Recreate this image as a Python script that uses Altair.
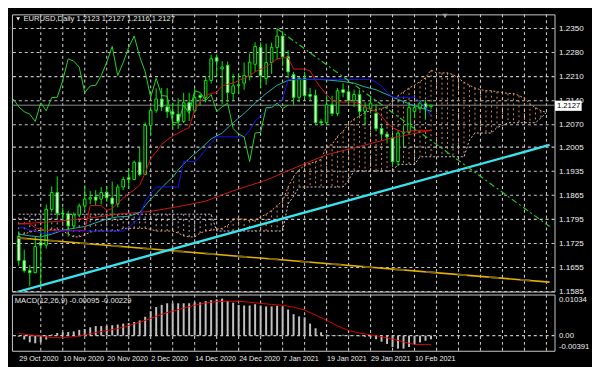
import altair as alt
import pandas as pd

FONT = "Liberation Sans Narrow, Liberation Sans, Arial, sans-serif"

# ---------------- data ----------------
header_text = "EURUSD,Daily 1.2123 1.2127 1.2116 1.2127"
macd_text = "MACD(12,26,9) -0.00095 -0.00229"

date_labels = ["29 Oct 2020", "10 Nov 2020", "20 Nov 2020", "2 Dec 2020", "14 Dec 2020",
               "24 Dec 2020", "7 Jan 2021", "19 Jan 2021", "29 Jan 2021", "10 Feb 2021"]

price_ticks = [1.2350, 1.2280, 1.2210, 1.2140, 1.2070, 1.2005, 1.1935, 1.1865,
               1.1795, 1.1725, 1.1655, 1.1585]
grid_bars = list(range(4, 97, 4))
macd_ticks = [0.01034, 0.0, -0.00391]
macd_tick_labels = ["0.01034", "0.00", "-0.00391"]
last_price = 1.2127

open_ = [1.1746, 1.1675, 1.1646, 1.1640, 1.1728, 1.1720, 1.1824, 1.1873, 1.1813, 1.1811,
         1.1776, 1.1808, 1.1834, 1.1854, 1.1860, 1.1854, 1.1874, 1.1857, 1.1840, 1.1889,
         1.1916, 1.1911, 1.1961, 1.1925, 1.2068, 1.2112, 1.2145, 1.2122, 1.2108, 1.2101,
         1.2080, 1.2134, 1.2111, 1.2155, 1.2150, 1.2199, 1.2265, 1.2233, 1.2243, 1.2161,
         1.2186, 1.2191, 1.2210, 1.2246, 1.2295, 1.2205, 1.2251, 1.2295, 1.2328, 1.2268,
         1.2216, 1.2150, 1.2205, 1.2158, 1.2155, 1.2079, 1.2076, 1.2128, 1.2103, 1.2172,
         1.2166, 1.2141, 1.2158, 1.2109, 1.2117, 1.2103, 1.2059, 1.2043, 1.2032, 1.1963,
         1.2046, 1.2048, 1.2109, 1.2117, 1.2131, 1.2123]
high_ = [1.1760, 1.1707, 1.1662, 1.1745, 1.1770, 1.1838, 1.1891, 1.1920, 1.1830, 1.1820,
         1.1815, 1.1841, 1.1894, 1.1878, 1.1880, 1.1889, 1.1890, 1.1905, 1.1897, 1.1919,
         1.1941, 1.1966, 1.2003, 1.2077, 1.2123, 1.2176, 1.2177, 1.2177, 1.2134, 1.2147,
         1.2163, 1.2163, 1.2177, 1.2160, 1.2212, 1.2273, 1.2275, 1.2255, 1.2254, 1.2218,
         1.2220, 1.2251, 1.2277, 1.2310, 1.2310, 1.2306, 1.2309, 1.2349, 1.2342, 1.2287,
         1.2224, 1.2210, 1.2224, 1.2177, 1.2172, 1.2087, 1.2155, 1.2155, 1.2177, 1.2191,
         1.2177, 1.2172, 1.2172, 1.2136, 1.2150, 1.2131, 1.2068, 1.2048, 1.2040, 1.2048,
         1.2068, 1.2136, 1.2128, 1.2142, 1.2142, 1.2127]
low_ = [1.1660, 1.1640, 1.1602, 1.1638, 1.1603, 1.1710, 1.1815, 1.1800, 1.1790, 1.1745,
        1.1767, 1.1804, 1.1823, 1.1839, 1.1835, 1.1838, 1.1846, 1.1801, 1.1830, 1.1880,
        1.1886, 1.1909, 1.1920, 1.1924, 1.2040, 1.2105, 1.2110, 1.2090, 1.2058, 1.2058,
        1.2075, 1.2081, 1.2105, 1.2126, 1.2135, 1.2190, 1.2210, 1.2130, 1.2136, 1.2142,
        1.2160, 1.2172, 1.2199, 1.2224, 1.2177, 1.2186, 1.2218, 1.2260, 1.2240, 1.2205,
        1.2128, 1.2136, 1.2144, 1.2142, 1.2073, 1.2068, 1.2068, 1.2095, 1.2095, 1.2150,
        1.2128, 1.2122, 1.2095, 1.2068, 1.2103, 1.2054, 1.2032, 1.2021, 1.1952, 1.1950,
        1.2007, 1.2046, 1.2090, 1.2111, 1.2085, 1.2116]
close_ = [1.1675, 1.1646, 1.1640, 1.1716, 1.1720, 1.1824, 1.1873, 1.1813, 1.1811, 1.1776,
          1.1808, 1.1834, 1.1854, 1.1858, 1.1851, 1.1873, 1.1858, 1.1840, 1.1889, 1.1911,
          1.1911, 1.1961, 1.1925, 1.2068, 1.2112, 1.2145, 1.2122, 1.2108, 1.2101, 1.2080,
          1.2134, 1.2111, 1.2149, 1.2150, 1.2199, 1.2262, 1.2255, 1.2238, 1.2164, 1.2183,
          1.2185, 1.2213, 1.2252, 1.2298, 1.2213, 1.2251, 1.2295, 1.2328, 1.2268, 1.2224,
          1.2150, 1.2205, 1.2155, 1.2153, 1.2076, 1.2076, 1.2128, 1.2103, 1.2169, 1.2164,
          1.2141, 1.2158, 1.2109, 1.2122, 1.2133, 1.2059, 1.2043, 1.2035, 1.1963, 1.2046,
          1.2048, 1.2120, 1.2120, 1.2133, 1.2117, 1.2127]

tenkan = [1.1782, 1.1782, 1.1782, 1.1771, 1.1766, 1.1763, 1.1763, 1.1763, 1.1763, 1.1763,
          1.1763, 1.1763, 1.1763, 1.1835, 1.1835, 1.1835, 1.1821, 1.1826, 1.1843, 1.1856,
          1.1870, 1.1881, 1.1895, 1.1930, 1.1972, 1.1991, 1.2013, 1.2026, 1.2037, 1.2046,
          1.2054, 1.2062, 1.2114, 1.2136, 1.2155, 1.2161, 1.2164, 1.2183, 1.2188, 1.2191,
          1.2199, 1.2205, 1.2213, 1.2224, 1.2232, 1.2238, 1.2249, 1.2262, 1.2265, 1.2265,
          1.2232, 1.2232, 1.2232, 1.2227, 1.2199, 1.2177, 1.2158, 1.2142, 1.2136, 1.2136,
          1.2136, 1.2136, 1.2131, 1.2122, 1.2114, 1.2109, 1.2095, 1.2076, 1.2062, 1.2054,
          1.2048, 1.2051, 1.2054, 1.2054, 1.2054, 1.2054]
kijun = [1.1771, 1.1771, 1.1763, 1.1763, 1.1755, 1.1755, 1.1755, 1.1761, 1.1761, 1.1761,
         1.1761, 1.1761, 1.1761, 1.1761, 1.1761, 1.1761, 1.1761, 1.1761, 1.1761, 1.1761,
         1.1771, 1.1785, 1.1802, 1.1848, 1.1870, 1.1889, 1.1889, 1.1889, 1.1889, 1.1889,
         1.1963, 1.1963, 1.1963, 1.1977, 1.1999, 1.2018, 1.2035, 1.2035, 1.2035, 1.2035,
         1.2035, 1.2035, 1.2054, 1.2081, 1.2095, 1.2111, 1.2125, 1.2131, 1.2144, 1.2202,
         1.2202, 1.2202, 1.2202, 1.2202, 1.2202, 1.2202, 1.2202, 1.2202, 1.2202, 1.2202,
         1.2202, 1.2202, 1.2202, 1.2202, 1.2202, 1.2194, 1.2183, 1.2164, 1.2150, 1.2150,
         1.2150, 1.2150, 1.2150, 1.2136, 1.2122, 1.2095]

# Senkou span A / B, bars 0..96 (projected 26 bars ahead, clipped at chart edge)
span_a = [1.1752, 1.1752, 1.1758, 1.1761, 1.1763, 1.1766, 1.1766, 1.1766, 1.1761, 1.1752,
          1.1744, 1.1744, 1.1750, 1.1758, 1.1761, 1.1761, 1.1761, 1.1761, 1.1761, 1.1769,
          1.1769, 1.1769, 1.1769, 1.1769, 1.1766, 1.1761, 1.1761, 1.1761, 1.1761, 1.1755,
          1.1747, 1.1744, 1.1744, 1.1755, 1.1761, 1.1763, 1.1766, 1.1769, 1.1777, 1.1796,
          1.1796, 1.1796, 1.1791, 1.1793, 1.1802, 1.1810, 1.1821, 1.1835, 1.1848, 1.1889,
          1.1920, 1.1939, 1.1952, 1.1958, 1.1963, 1.1969, 1.2007, 1.2013, 1.2037, 1.2051,
          1.2073, 1.2087, 1.2095, 1.2106, 1.2111, 1.2114, 1.2117, 1.2122, 1.2139, 1.2155,
          1.2166, 1.2177, 1.2185, 1.2196, 1.2207, 1.2229, 1.2221, 1.2221, 1.2221, 1.2216,
          1.2205, 1.2194, 1.2185, 1.2177, 1.2172, 1.2169, 1.2169, 1.2166, 1.2164, 1.2161,
          1.2161, 1.2155, 1.2147, 1.2131, 1.2120, 1.2111, 1.2106]
span_b = ([1.1810] * 36 + [1.1761] * 13 + [1.1840, 1.1862] + [1.1889] * 9 + [1.1909]
          + [1.1936] * 8 + [1.1955] * 4 + [1.1977] * 9 + [1.2026] + [1.2046] * 4
          + [1.2062, 1.2068] + [1.2076] * 6 + [1.2090, 1.2106])

teal_bars = [0, 2, 4, 6, 8, 10, 12, 14, 16, 18, 20, 22, 23, 24, 25, 26, 27, 28, 29, 31, 33,
             35, 37, 39, 41, 43, 45, 47, 49, 51, 53, 55, 57, 59, 61, 63, 65, 67, 69, 71, 73, 75]
teal_ma = [1.1752, 1.1747, 1.1744, 1.1752, 1.1763, 1.1769, 1.1774, 1.1785, 1.1796, 1.1802,
           1.1804, 1.1815, 1.1835, 1.1854, 1.1870, 1.1887, 1.1903, 1.1917, 1.1939, 1.1972,
           1.1999, 1.2029, 1.2046, 1.2076, 1.2103, 1.2133, 1.2161, 1.2185, 1.2199, 1.2202,
           1.2202, 1.2202, 1.2199, 1.2196, 1.2191, 1.2180, 1.2172, 1.2158, 1.2144, 1.2131,
           1.2120, 1.2109]
red_ma_bars = [0, 6, 13, 18, 24, 30, 34, 39, 45, 51, 56, 62, 68, 75]
red_ma = [1.1782, 1.1788, 1.1799, 1.1810, 1.1818, 1.1835, 1.1848, 1.1878, 1.1909, 1.1950,
          1.1983, 1.2007, 1.2032, 1.2054]

chikou_shift = 26

macd_main = [-0.00029, -0.00101, -0.00174, -0.00198, -0.00174, -0.00101, 0.00027, 0.00068, 0.00085, 0.00092,
             0.00109, 0.00147, 0.00171, 0.00213, 0.00244, 0.00244, 0.00254, 0.00268, 0.00285, 0.00309,
             0.00326, 0.00350, 0.00389, 0.00486, 0.00630, 0.00737, 0.00792, 0.00833, 0.00833, 0.00833,
             0.00833, 0.00833, 0.00857, 0.00857, 0.00889, 0.00913, 0.00937, 0.00954, 0.00889, 0.00848,
             0.00792, 0.00775, 0.00775, 0.00809, 0.00775, 0.00751, 0.00751, 0.00768, 0.00751, 0.00671,
             0.00551, 0.00495, 0.00471, 0.00309, 0.00188, 0.00085, 0.00027, 0.00012, 0.00012, 0.00019,
             0.00019, 0.00007, -0.00017, -0.00029, -0.00041, -0.00094, -0.00157, -0.00215, -0.00295, -0.00336,
             -0.00336, -0.00295, -0.00215, -0.00174, -0.00133, -0.00095]
signal_bars = [0, 2, 4, 6, 8, 10, 12, 14, 16, 18, 20, 22, 24, 26, 28, 30, 32, 34, 36, 38,
               40, 42, 44, 46, 48, 50, 52, 54, 56, 58, 60, 62, 64, 66, 68, 70, 72, 74, 75]
macd_signal = [0.00056, 0.00019, -0.00012, -0.00053, -0.00053, -0.00029, 0.00012, 0.00080, 0.00128, 0.00181,
               0.00261, 0.00345, 0.00442, 0.00551, 0.00630, 0.00708, 0.00780, 0.00841, 0.00877, 0.00889,
               0.00884, 0.00860, 0.00829, 0.00804, 0.00780, 0.00732, 0.00659, 0.00527, 0.00394, 0.00249,
               0.00128, 0.00068, 0.00019, -0.00029, -0.00089, -0.00162, -0.00229, -0.00229, -0.00229]

# hand-drawn trend lines (bar index, price)
cyan_bars, cyan_prices = [-0.343, 96.57], [1.15836, 1.20114]
yellow_bars, yellow_prices = [-0.343, 96.57], [1.17413, 1.16124]
green_bars, green_prices = [47.0, 96.57], [1.2349, 1.17742]

# ---------------- frames ----------------
n = len(close_)
bars = list(range(n))
cd = pd.DataFrame({"bar": bars, "open": open_, "high": high_, "low": low_, "close": close_})
bull = cd[cd.close >= cd.open]
bear = cd[cd.close < cd.open]

cloud = pd.DataFrame({"bar": list(range(len(span_a))), "a": span_a, "b": span_b})
cloud_up = cloud[cloud.a >= cloud.b]
cloud_dn = cloud[cloud.a < cloud.b]

chik = pd.DataFrame({"bar": [b - chikou_shift for b in bars[chikou_shift - 1:]],
                     "price": close_[chikou_shift - 1:]})


def line_df(b, p):
    return pd.DataFrame({"bar": b, "price": p})


# ---------------- scales / axes ----------------
X = alt.Scale(domain=[-0.343, 96.57], nice=False, zero=False)
Y = alt.Scale(domain=[1.1585, 1.23911], nice=False, zero=False)
YM = alt.Scale(domain=[-0.00391, 0.01058], nice=False, zero=False)

SANDY, THISTLE, LIME = "#f4a460", "#d8bfd8", "#00f000"
GRID = "#c4c4c4"

XA = alt.Axis(values=grid_bars, labels=False, ticks=False, domain=False, grid=False, title=None)
YA = alt.Axis(orient="right", values=price_ticks, format=".4f", ticks=False, domain=False,
              grid=False, title=None, labelFlush=False, labelOverlap=False, labelPadding=4,
              labelFontSize=8.2)

date_arr = "[" + ",".join("'%s'" % d for d in date_labels) + "]"
XMA = alt.Axis(
    values=list(range(0, 97, 4)), ticks=False, domain=False, grid=False, title=None,
    labelExpr="datum.value %% 8 == 0 && datum.value <= 72 ? %s[datum.value / 8] : ''" % date_arr,
    labelAlign="left", labelFlush=False, labelOverlap=False, labelPadding=4, labelFontSize=7.3)
YMA = alt.Axis(
    orient="right", values=macd_ticks, ticks=False, domain=False, grid=False, title=None,
    labelExpr="datum.value > 0.005 ? '%s' : (datum.value < -0.003 ? '%s' : '%s')"
              % (macd_tick_labels[0], macd_tick_labels[2], macd_tick_labels[1]),
    labelFlush=False, labelOverlap=False, labelPadding=4, labelFontSize=7.8,
    labelBaseline={"condition": [{"test": "datum.value > 0.005", "value": "top"},
                                 {"test": "datum.value < -0.003", "value": "bottom"}],
                   "value": "middle"})


def xq():
    return alt.X("bar:Q", scale=X, axis=XA)


def yq(field):
    return alt.Y(field, scale=Y, axis=YA)


layers = []
# dashed grid drawn from the tick lists
layers.append(alt.Chart(pd.DataFrame({"bar": grid_bars}))
              .mark_rule(color=GRID, strokeDash=[3, 3], strokeWidth=1.1).encode(x=xq()))
layers.append(alt.Chart(pd.DataFrame({"price": price_ticks}))
              .mark_rule(color=GRID, strokeDash=[3, 3], strokeWidth=1.1).encode(y=yq("price:Q")))
# cloud
layers.append(alt.Chart(cloud_dn).mark_rule(color=THISTLE, strokeDash=[2, 3], strokeWidth=1, opacity=0.85)
              .encode(x=xq(), y=yq("a:Q"), y2="b:Q"))
layers.append(alt.Chart(cloud_up).mark_rule(color=SANDY, strokeDash=[2, 3], strokeWidth=1, opacity=0.85)
              .encode(x=xq(), y=yq("a:Q"), y2="b:Q"))
layers.append(alt.Chart(cloud).mark_line(color=SANDY, strokeDash=[2, 2], strokeWidth=1)
              .encode(x=xq(), y=yq("a:Q")))
layers.append(alt.Chart(cloud).mark_line(color=THISTLE, strokeDash=[2, 2], strokeWidth=1)
              .encode(x=xq(), y=yq("b:Q")))
layers.append(alt.Chart(pd.DataFrame({"price": [last_price]})).mark_rule(color="#8a8a8a", strokeWidth=1)
              .encode(y=yq("price:Q")))
# candles
layers.append(alt.Chart(cd).mark_rule(color=LIME, strokeWidth=1)
              .encode(x=xq(), y=yq("low:Q"), y2="high:Q"))
layers.append(alt.Chart(bull).mark_bar(size=2.6, fill="#000000", stroke=LIME, strokeWidth=1)
              .encode(x=xq(), y=yq("open:Q"), y2="close:Q"))
layers.append(alt.Chart(bear).mark_bar(size=2.6, fill="#ffffff", stroke=LIME, strokeWidth=1)
              .encode(x=xq(), y=yq("open:Q"), y2="close:Q"))
# indicators
for df, col in [(line_df(red_ma_bars, red_ma), "#d01818"),
                (line_df(teal_bars, teal_ma), "#20b2aa"),
                (line_df(bars, tenkan), "#e01010"),
                (line_df(bars, kijun), "#1414f0")]:
    layers.append(alt.Chart(df).mark_line(color=col, strokeWidth=1, clip=True)
                  .encode(x=xq(), y=yq("price:Q")))
layers.append(alt.Chart(chik).mark_line(color="#28d428", strokeWidth=1, clip=True)
              .encode(x=xq(), y=yq("price:Q")))
# trend lines
ydf = line_df(yellow_bars, yellow_prices)
layers.append(alt.Chart(ydf).mark_line(color="#e0b000", strokeWidth=1.6, clip=True)
              .encode(x=xq(), y=yq("price:Q")))
layers.append(alt.Chart(ydf).mark_line(color="#7a6212", strokeWidth=2, strokeDash=[10, 22], clip=True)
              .encode(x=xq(), y=yq("price:Q")))
layers.append(alt.Chart(line_df(cyan_bars, cyan_prices)).mark_line(color="#38e4f0", strokeWidth=2.4, clip=True)
              .encode(x=xq(), y=yq("price:Q")))
layers.append(alt.Chart(line_df(green_bars, green_prices))
              .mark_line(color="#22c822", strokeWidth=1.2, strokeDash=[6, 3, 2, 3], clip=True)
              .encode(x=xq(), y=yq("price:Q")))
# labels / decorations
one = pd.DataFrame({"k": [0]})
layers.append(alt.Chart(pd.DataFrame({"t": [header_text]}))
              .mark_text(align="left", baseline="middle", color="#e8e8e8", font=FONT, fontSize=7.7)
              .encode(x=alt.value(11.6), y=alt.value(4.9), text="t:N"))
layers.append(alt.Chart(one).mark_point(shape="triangle-down", filled=True, size=14, color="#ffffff", opacity=1)
              .encode(x=alt.value(6.3), y=alt.value(4.6)))
layers.append(alt.Chart(one).mark_point(shape="triangle-down", filled=True, size=26, color="#a0a0a0", opacity=1)
              .encode(x=alt.value(439), y=alt.value(1.6)))
layers.append(alt.Chart(one).mark_rect(color="#ffffff")
              .encode(x=alt.value(550.5), x2=alt.value(577.5), y=alt.value(87.5), y2=alt.value(97.8)))
layers.append(alt.Chart(pd.DataFrame({"t": ["%.4f" % last_price]}))
              .mark_text(align="left", baseline="middle", color="#000000", font=FONT, fontSize=7.8)
              .encode(x=alt.value(552.4), y=alt.value(92.8), text="t:N"))

main = alt.layer(*layers).properties(width=550, height=281)

macd_df = pd.DataFrame({"bar": bars, "v": macd_main, "base": [0.0] * n})
sig_df = pd.DataFrame({"bar": signal_bars, "v": macd_signal})
mx = alt.X("bar:Q", scale=X, axis=XMA)
my = alt.Y("v:Q", scale=YM, axis=YMA)
macd_layers = [
    alt.Chart(pd.DataFrame({"bar": grid_bars}))
    .mark_rule(color=GRID, strokeDash=[3, 3], strokeWidth=1.1).encode(x=mx),
    alt.Chart(pd.DataFrame({"v": [macd_ticks[1]]}))
    .mark_rule(color=GRID, strokeDash=[3, 3], strokeWidth=1.1).encode(y=my),
    alt.Chart(macd_df).mark_bar(size=2, color="#c0c0c0").encode(x=mx, y=my, y2="base:Q"),
    alt.Chart(sig_df).mark_line(color="#e00000", strokeWidth=1).encode(x=mx, y=my),
    alt.Chart(pd.DataFrame({"t": [macd_text]}))
    .mark_text(align="left", baseline="middle", color="#e8e8e8", font=FONT, fontSize=7.7)
    .encode(x=alt.value(2.9), y=alt.value(6.5), text="t:N"),
]
macd = alt.layer(*macd_layers).properties(width=550, height=57)

chart = (alt.vconcat(main, macd, spacing=3, bounds="flush")
         .properties(padding={"left": 2, "top": 2, "right": 2, "bottom": 2}, background="#000000")
         .configure_view(stroke="#c8c8c8", strokeWidth=1)
         .configure_axis(labelColor="#f0f0f0", labelFont=FONT, labelFontSize=8.2))

chart.save("out.html", embed_options={"renderer": "svg", "actions": False})
